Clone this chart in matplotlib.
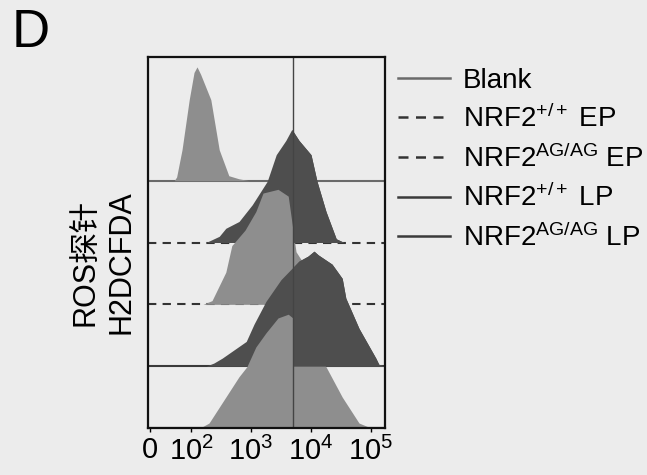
import matplotlib
matplotlib.use("Agg")
import matplotlib.pyplot as plt
from matplotlib.lines import Line2D
from matplotlib.patches import Rectangle

plt.rcParams['font.family'] = ['Liberation Sans', 'Noto Sans CJK SC', 'DejaVu Sans']
plt.rcParams['mathtext.fontset'] = 'custom'
plt.rcParams['mathtext.rm'] = 'Liberation Sans'
plt.rcParams['mathtext.it'] = 'Liberation Sans'
plt.rcParams['mathtext.bf'] = 'Liberation Sans'
plt.rcParams['mathtext.default'] = 'rm'

# ---- data (x in log10 fluorescence units, y = mode-normalised count) ----
series_names = ['Blank', r'NRF2$^{+/+}$ EP', r'NRF2$^{AG/AG}$ EP',
                r'NRF2$^{+/+}$ LP', r'NRF2$^{AG/AG}$ LP']

blank_x = [1.28, 1.72, 1.76, 1.85, 1.97, 2.05, 2.10, 2.16, 2.33, 2.47, 2.63, 2.80, 2.97, 5.23]
blank_y = [0.00, 0.00, 0.06, 0.50, 1.31, 1.75, 1.84, 1.72, 1.31, 0.50, 0.08, 0.03, 0.00, 0.00]

wt_ep_x = [1.28, 2.25, 2.47, 2.58, 2.80, 3.02, 3.27, 3.42, 3.58, 3.68, 3.80, 4.00, 4.10, 4.25, 4.42, 4.55, 5.23]
wt_ep_y = [0.00, 0.00, 0.10, 0.23, 0.34, 0.61, 0.99, 1.42, 1.65, 1.83, 1.65, 1.42, 0.99, 0.50, 0.06, 0.00, 0.00]

ag_ep_x = [1.28, 2.20, 2.35, 2.58, 2.68, 2.90, 3.08, 3.20, 3.45, 3.62, 3.75, 3.95, 4.20, 4.45, 4.60, 5.23]
ag_ep_y = [0.00, 0.00, 0.06, 0.52, 0.95, 1.20, 1.50, 1.80, 1.86, 1.75, 0.85, 0.55, 0.25, 0.05, 0.00, 0.00]

wt_lp_x = [1.28, 2.25, 2.38, 2.52, 2.92, 3.05, 3.25, 3.50, 3.80, 3.95, 4.05, 4.12, 4.35, 4.52, 4.58, 4.80, 5.08, 5.13, 5.23]
wt_lp_y = [0.00, 0.00, 0.05, 0.13, 0.40, 0.68, 1.05, 1.40, 1.70, 1.78, 1.86, 1.80, 1.65, 1.42, 1.10, 0.61, 0.13, 0.03, 0.00]

ag_lp_x = [1.28, 2.15, 2.30, 2.58, 2.80, 2.93, 3.08, 3.25, 3.45, 3.62, 3.80, 4.05, 4.25, 4.52, 4.80, 5.00, 5.23]
ag_lp_y = [0.00, 0.00, 0.08, 0.50, 0.83, 0.99, 1.31, 1.54, 1.78, 1.84, 1.70, 1.35, 0.99, 0.50, 0.08, 0.00, 0.00]

xs = [blank_x, wt_ep_x, ag_ep_x, wt_lp_x, ag_lp_x]
ys = [blank_y, wt_ep_y, ag_ep_y, wt_lp_y, ag_lp_y]

gate_x = 3.70
tick_pos = [1.317, 2.0, 3.0, 4.0, 5.0]
tick_labels = ['0', r'$10^2$', r'$10^3$', r'$10^4$', r'$10^5$']

# ---- styles ----
bg = '#ececec'
fills = ['#8e8e8e', '#4e4e4e', '#8e8e8e', '#4e4e4e', '#8e8e8e']
dark = [False, True, False, True, False]
line_styles = ['-', (0, (4, 3)), (0, (4, 3)), '-', '-']
line_colors = ['#6a6a6a', '#333333', '#333333', '#3a3a3a', '#3a3a3a']

fig = plt.figure(figsize=(6.47, 4.75), dpi=100, facecolor=bg)
ax = fig.add_axes([148/647, 1-428/475, (385-148)/647, (428-57)/475])
ax.set_facecolor(bg)
ax.set_xlim(1.283, 5.233)
ax.set_ylim(0, 6.0)

n = len(series_names)
for i in range(n):
    off = n - 1 - i
    z = 2 + i * 2
    ax.axhline(off, color=line_colors[i], ls=line_styles[i], lw=1.5, zorder=z)
    ax.fill_between(xs[i], off, [off + v for v in ys[i]], color=fills[i],
                    lw=0, zorder=z + 1)

# darker populations dominate right of the gate line
for i in range(n):
    if dark[i]:
        off = n - 1 - i
        poly = ax.fill_between(xs[i], off, [off + v for v in ys[i]],
                               color=fills[i], lw=0, zorder=20)
        rect = Rectangle((gate_x, 0), 10, 10, transform=ax.transData)
        poly.set_clip_path(rect)

ax.axvline(gate_x, color='#444444', lw=1.0, zorder=25)

for s in ax.spines.values():
    s.set_linewidth(1.6)
    s.set_color('#111111')
    s.set_zorder(30)

ax.set_yticks([])
ax.set_xticks(tick_pos)
ax.set_xticklabels(tick_labels, fontsize=21)
ax.tick_params(axis='x', length=3, width=1, pad=3)

handles = [Line2D([0], [0], color=line_colors[i], ls=line_styles[i], lw=1.8)
           for i in range(n)]
fig.legend(handles, series_names, loc='upper left',
           bbox_to_anchor=(392/647, 1-62/475), frameon=False, fontsize=20,
           handlelength=1.9, handletextpad=0.45, labelspacing=0.4,
           borderaxespad=0, borderpad=0.2)

fig.text(104/647, 1-262/475, 'ROS探针\nH2DCFDA', rotation=90, ha='center',
         va='center', fontsize=22, multialignment='center', linespacing=1.2)
fig.text(12/647, 1-8/475, 'D', fontsize=38, ha='left', va='top')

fig.savefig('out.png', dpi=100, facecolor=bg)
